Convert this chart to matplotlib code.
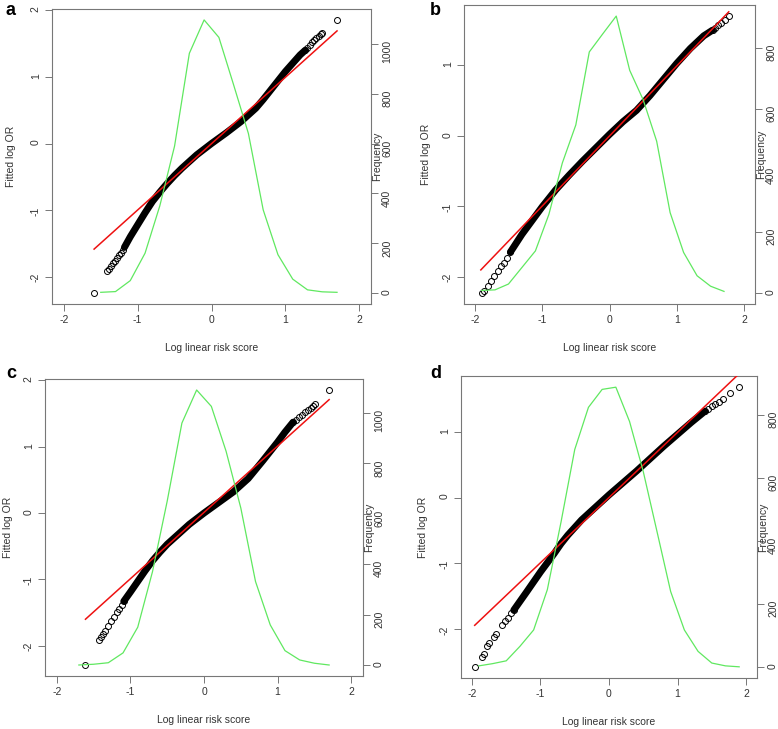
import matplotlib.pyplot as plt

plt.rcParams['font.family'] = ['Liberation Sans', 'DejaVu Sans']
plt.rcParams['axes.unicode_minus'] = False

W, H = 778, 729

# ---- panel a ----
a_core_x = [-1.18, -1.1, -1.0, -0.9, -0.8, -0.7, -0.6, -0.5, -0.4, -0.2, 0.0, 0.2, 0.4, 0.6, 0.7, 0.8, 1.0, 1.2, 1.27]
a_core_y = [-1.56, -1.40, -1.22, -1.04, -0.87, -0.73, -0.60, -0.48, -0.37, -0.17, 0.0, 0.16, 0.33, 0.53, 0.66, 0.80, 1.08, 1.33, 1.40]
a_pts_x = [-1.59, -1.42, -1.39, -1.36, -1.33, -1.31, -1.28, -1.25, -1.23, -1.20,
           1.27, 1.30, 1.33, 1.36, 1.39, 1.42, 1.45, 1.48, 1.50, 1.70]
a_pts_y = [-2.245, -1.92, -1.88, -1.84, -1.80, -1.77, -1.72, -1.68, -1.64, -1.60,
           1.40, 1.44, 1.48, 1.52, 1.56, 1.59, 1.62, 1.64, 1.655, 1.855]
a_fit_x = [-1.59, 1.70]
a_fit_y = [-1.585, 1.69]
a_mid = [-1.5, -1.3, -1.1, -0.9, -0.7, -0.5, -0.3, -0.1, 0.1, 0.3, 0.5, 0.7, 0.9, 1.1, 1.3, 1.5, 1.7]
a_freq = [3, 6, 50, 160, 350, 590, 962, 1096, 1026, 835, 640, 334, 154, 56, 13, 5, 3]

# ---- panel b ----
b_core_x = [-1.47, -1.3, -1.2, -1.0, -0.8, -0.6, -0.4, -0.2, 0.0, 0.2, 0.4, 0.6, 0.8, 1.0, 1.2, 1.4, 1.53]
b_core_y = [-1.65, -1.40, -1.27, -1.01, -0.77, -0.56, -0.36, -0.17, 0.02, 0.20, 0.36, 0.57, 0.80, 1.03, 1.24, 1.42, 1.50]
b_pts_x = [-1.895, -1.86, -1.81, -1.76, -1.71, -1.66, -1.61, -1.57, -1.52, -1.47,
           1.53, 1.57, 1.61, 1.66, 1.71, 1.77]
b_pts_y = [-2.232, -2.20, -2.13, -2.06, -1.99, -1.915, -1.845, -1.80, -1.73, -1.655,
           1.50, 1.535, 1.57, 1.60, 1.65, 1.70]
b_fit_x = [-1.91, 1.77]
b_fit_y = [-1.905, 1.76]
b_mid = [-1.9, -1.7, -1.5, -1.3, -1.1, -0.9, -0.7, -0.5, -0.3, -0.1, 0.1, 0.3, 0.5, 0.7, 0.9, 1.1, 1.3, 1.5, 1.7]
b_freq = [8, 10, 29, 83, 137, 256, 424, 548, 786, 845, 903, 726, 630, 495, 262, 132, 56, 22, 5]

# ---- panel c ----
c_core_x = [-1.09, -1.0, -0.9, -0.8, -0.7, -0.6, -0.5, -0.4, -0.2, 0.0, 0.2, 0.4, 0.6, 0.8, 1.0, 1.1, 1.21]
c_core_y = [-1.33, -1.19, -1.03, -0.87, -0.72, -0.59, -0.47, -0.37, -0.17, 0.0, 0.16, 0.32, 0.52, 0.79, 1.07, 1.22, 1.37]
c_pts_x = [-1.61, -1.43, -1.40, -1.37, -1.34, -1.30, -1.26, -1.22, -1.18, -1.15, -1.12, -1.09,
           1.21, 1.25, 1.29, 1.33, 1.37, 1.41, 1.45, 1.48, 1.51, 1.70]
c_pts_y = [-2.29, -1.92, -1.87, -1.82, -1.77, -1.70, -1.63, -1.56, -1.49, -1.44, -1.38, -1.33,
           1.37, 1.41, 1.45, 1.48, 1.52, 1.55, 1.59, 1.62, 1.64, 1.855]
c_fit_x = [-1.61, 1.70]
c_fit_y = [-1.60, 1.71]
c_mid = [-1.7, -1.5, -1.3, -1.1, -0.9, -0.7, -0.5, -0.3, -0.1, 0.1, 0.3, 0.5, 0.7, 0.9, 1.1, 1.3, 1.5, 1.7]
c_freq = [0, 3, 9, 48, 150, 370, 650, 960, 1091, 1026, 848, 623, 331, 159, 57, 20, 7, 0]

# ---- panel d ----
d_core_x = [-1.39, -1.2, -1.0, -0.9, -0.8, -0.7, -0.6, -0.4, -0.2, 0.0, 0.2, 0.4, 0.6, 0.8, 1.0, 1.2, 1.40]
d_core_y = [-1.71, -1.43, -1.13, -0.99, -0.85, -0.70, -0.57, -0.34, -0.15, 0.04, 0.22, 0.40, 0.59, 0.78, 0.96, 1.14, 1.31]
d_pts_x = [-1.96, -1.86, -1.83, -1.78, -1.75, -1.68, -1.65, -1.56, -1.52, -1.48, -1.43, -1.39,
           1.40, 1.45, 1.50, 1.55, 1.60, 1.66, 1.76, 1.90]
d_pts_y = [-2.57, -2.42, -2.37, -2.25, -2.21, -2.12, -2.07, -1.94, -1.88, -1.83, -1.76, -1.71,
           1.31, 1.35, 1.39, 1.42, 1.45, 1.49, 1.59, 1.675]
d_fit_x = [-1.96, 1.90]
d_fit_y = [-1.94, 1.88]
d_mid = [-1.9, -1.7, -1.5, -1.3, -1.1, -0.9, -0.7, -0.5, -0.3, -0.1, 0.1, 0.3, 0.5, 0.7, 0.9, 1.1, 1.3, 1.5, 1.7, 1.9]
d_freq = [3, 10, 19, 65, 117, 245, 460, 690, 824, 881, 888, 779, 620, 430, 239, 117, 49, 12, 3, 0]

GRAY = '#777777'
TXT = '#333333'
FS = 7.5


def ftext(x, y, s, **kw):
    # position given in pixels from top-left
    fig.text(x / W, 1 - y / H, s, **kw)


def panel(box, letter, letter_xy, ylab_x, core_x, core_y, pts_x, pts_y, fit_x, fit_y, mid, freq):
    left, top, right, bottom = box
    ax = fig.add_axes([left / W, 1 - bottom / H, (right - left) / W, (bottom - top) / H])
    ys = core_y + pts_y
    lo, hi = min(ys), max(ys)
    r = hi - lo
    ax.set_ylim(lo - 0.04 * r, hi + 0.04 * r)
    ax.set_xlim(-2.16, 2.16)

    ax.plot(core_x, core_y, color='black', lw=5.0, solid_capstyle='round', zorder=2)
    ax.plot(pts_x, pts_y, 'o', mfc='none', mec='black', ms=4.3, mew=0.7, zorder=2)
    ax.plot(fit_x, fit_y, color='#ee1111', lw=1.1, zorder=3)

    ax.set_xticks([-2, -1, 0, 1, 2])
    ax.set_yticks([t for t in [-2, -1, 0, 1, 2] if lo - 0.04 * r <= t <= hi + 0.04 * r])
    ax.tick_params(axis='both', colors=GRAY, labelcolor=TXT, labelsize=FS,
                   length=5, width=0.7, pad=3)
    ax.tick_params(axis='y', labelrotation=90)
    for sp in ax.spines.values():
        sp.set_color(GRAY)
        sp.set_linewidth(0.8)

    ax2 = ax.twinx()
    ax2.plot(mid, freq, color='#60e860', lw=0.9)
    fmax = max(freq)
    ax2.set_ylim(-0.04 * fmax, 1.04 * fmax)
    ax2.set_yticks(list(range(0, fmax + 1, 200)))
    ax2.tick_params(axis='y', colors=GRAY, labelcolor=TXT, labelsize=FS,
                    length=5, width=0.7, pad=3, labelrotation=90)
    for sp in ax2.spines.values():
        sp.set_visible(False)

    cx = (left + right) / 2
    cy = (top + bottom) / 2
    ftext(cx, bottom + 44, 'Log linear risk score', ha='center', va='center',
          fontsize=FS, color=TXT)
    ftext(ylab_x, cy, 'Fitted log OR', ha='center', va='center', rotation=90,
          fontsize=FS, color=TXT)
    ftext(right + 6, cy, 'Frequency', ha='center', va='center', rotation=90,
          fontsize=FS, color=TXT)
    ftext(letter_xy[0], letter_xy[1], letter, ha='left', va='baseline',
          fontsize=13, fontweight='bold', color='black')
    return ax


fig = plt.figure(figsize=(W / 100, H / 100), dpi=100)

panel((52, 9, 371, 304), 'a', (6, 15), 11, a_core_x, a_core_y, a_pts_x, a_pts_y, a_fit_x, a_fit_y, a_mid, a_freq)
panel((464, 5, 755, 304), 'b', (430, 15), 426, b_core_x, b_core_y, b_pts_x, b_pts_y, b_fit_x, b_fit_y, b_mid, b_freq)
panel((45, 379, 363, 676), 'c', (6, 378), 8, c_core_x, c_core_y, c_pts_x, c_pts_y, c_fit_x, c_fit_y, c_mid, c_freq)
panel((461, 376, 757, 678), 'd', (430, 378), 423, d_core_x, d_core_y, d_pts_x, d_pts_y, d_fit_x, d_fit_y, d_mid, d_freq)

fig.savefig('out.png', dpi=100)
